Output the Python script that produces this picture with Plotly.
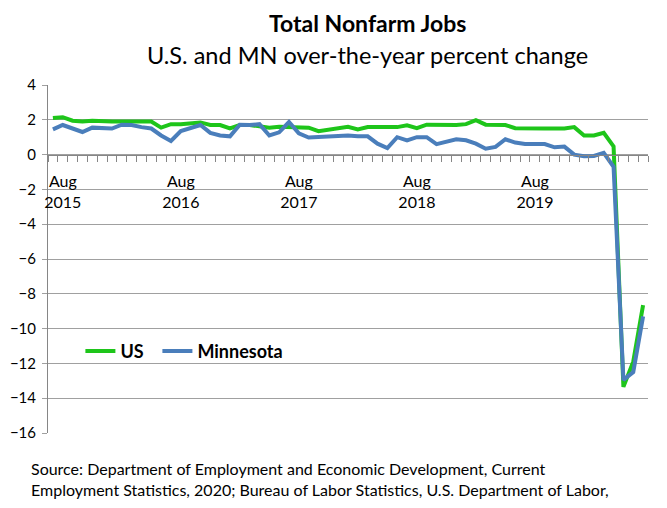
import plotly.graph_objects as go

# Categories: monthly, Jul 2015 .. Jul 2020 (61 months)
months = [
    "Jul 2015", "Aug 2015", "Sep 2015", "Oct 2015", "Nov 2015", "Dec 2015",
    "Jan 2016", "Feb 2016", "Mar 2016", "Apr 2016", "May 2016", "Jun 2016",
    "Jul 2016", "Aug 2016", "Sep 2016", "Oct 2016", "Nov 2016", "Dec 2016",
    "Jan 2017", "Feb 2017", "Mar 2017", "Apr 2017", "May 2017", "Jun 2017",
    "Jul 2017", "Aug 2017", "Sep 2017", "Oct 2017", "Nov 2017", "Dec 2017",
    "Jan 2018", "Feb 2018", "Mar 2018", "Apr 2018", "May 2018", "Jun 2018",
    "Jul 2018", "Aug 2018", "Sep 2018", "Oct 2018", "Nov 2018", "Dec 2018",
    "Jan 2019", "Feb 2019", "Mar 2019", "Apr 2019", "May 2019", "Jun 2019",
    "Jul 2019", "Aug 2019", "Sep 2019", "Oct 2019", "Nov 2019", "Dec 2019",
    "Jan 2020", "Feb 2020", "Mar 2020", "Apr 2020", "May 2020", "Jun 2020",
    "Jul 2020",
]

us = [
    2.10, 2.15, 1.95, 1.90, 1.95, 1.90, 1.90, 1.90, 1.90, 1.90, 1.90, 1.55,
    1.75, 1.75, 1.80, 1.85, 1.70, 1.70, 1.50, 1.70, 1.70, 1.65, 1.55, 1.60,
    1.60, 1.55, 1.55, 1.35, 1.45, 1.55, 1.60, 1.45, 1.58, 1.58, 1.58, 1.58,
    1.68, 1.52, 1.72, 1.70, 1.70, 1.70, 1.75, 1.98, 1.72, 1.72, 1.70, 1.52,
    1.50, 1.50, 1.50, 1.50, 1.50, 1.58, 1.10, 1.10, 1.25, 0.47, -13.35, -11.9,
    -8.65,
]

minnesota = [
    1.45, 1.70, 1.50, 1.30, 1.55, 1.55, 1.50, 1.72, 1.70, 1.58, 1.50, 1.10,
    0.78, 1.35, 1.55, 1.70, 1.25, 1.10, 1.05, 1.72, 1.70, 1.75, 1.10, 1.28,
    1.87, 1.22, 0.98, 1.00, 1.05, 1.05, 1.10, 1.05, 1.05, 0.63, 0.38, 1.00,
    0.82, 1.00, 1.00, 0.60, 0.76, 0.88, 0.82, 0.63, 0.34, 0.44, 0.88, 0.69,
    0.61, 0.61, 0.61, 0.42, 0.46, 0.00, -0.10, -0.08, 0.10, -0.70, -12.95, -12.5,
    -9.30,
]

tick_months = ["Aug 2015", "Aug 2016", "Aug 2017", "Aug 2018", "Aug 2019"]
tick_labels = ["Aug<br>2015", "Aug<br>2016", "Aug<br>2017", "Aug<br>2018", "Aug<br>2019"]

y_ticks = [4, 2, 0, -2, -4, -6, -8, -10, -12, -14, -16]

n = len(months)
x_idx = list(range(n))
# tick marks sit on category boundaries; labels are shifted to the category centre
boundaries = [i - 0.5 for i in range(n + 1)]
label_at = {months.index(m): t for m, t in zip(tick_months, tick_labels)}
boundary_text = [label_at.get(int(b + 0.5), "") for b in boundaries]

FONT = "Lato"
GREEN = "#1ec51a"
BLUE = "#4a7ebb"
GRID = "#a0a0a0"
NBSP = "\u00a0"

fig = go.Figure()
fig.add_trace(go.Scatter(x=x_idx, y=us, mode="lines", name="US" + NBSP * 2,
                         line=dict(color=GREEN, width=4), customdata=months))
fig.add_trace(go.Scatter(x=x_idx, y=minnesota, mode="lines", name="Minnesota",
                         line=dict(color=BLUE, width=4), customdata=months))

fig.update_layout(
    width=659, height=500,
    margin=dict(l=40, r=19, t=77, b=75, autoexpand=False),
    paper_bgcolor="white", plot_bgcolor="white",
    font=dict(family=FONT, color="black", size=15),
    showlegend=True,
    legend=dict(orientation="h", x=0.054, y=0.235, xanchor="left", yanchor="middle",
                font=dict(family=FONT, size=18, color="black", weight="bold"),
                bgcolor="rgba(0,0,0,0)"),
    xaxis=dict(
        range=[-0.5, n - 0.5], automargin=False,
        tickmode="array", tickvals=boundaries, ticktext=boundary_text,
        ticks="outside", ticklen=6, tickcolor="#868686", tickwidth=1,
        ticklabelshift=5, ticklabelstandoff=6,
        showgrid=False, zeroline=False,
        showline=True, linecolor="#868686", linewidth=1,
        anchor="free", position=0.8,
        tickfont=dict(family=FONT, size=16, color="black"),
    ),
    yaxis=dict(
        range=[-16, 4], tickvals=y_ticks, ticks="outside", ticklen=5,
        tickcolor=GRID, showgrid=True, gridcolor=GRID, gridwidth=1,
        zeroline=False, showline=True, linecolor="#868686", linewidth=1,
        tickfont=dict(family=FONT, size=15, color="black"),
        ticklabelstandoff=3, automargin=False,
    ),
    annotations=[
        dict(text="<b>Total Nonfarm Jobs</b>", xref="paper", yref="paper",
             x=0.533, y=1.179, xanchor="center", yanchor="middle", showarrow=False,
             font=dict(family=FONT, size=23, color="black")),
        dict(text="U.S. and MN over-the-year percent change", xref="paper", yref="paper",
             x=0.533, y=1.0875, xanchor="center", yanchor="middle", showarrow=False,
             font=dict(family=FONT, size=23.5, color="black")),
        dict(text="Source: Department of Employment and Economic Development, Current<br>"
                  "Employment Statistics, 2020; Bureau of Labor Statistics, U.S. Department of Labor,",
             xref="paper", yref="paper", x=-0.032, y=-0.132, xanchor="left", yanchor="middle",
             align="left", showarrow=False,
             font=dict(family=FONT, size=16, color="black")),
    ],
)

fig.write_html("out.html")
